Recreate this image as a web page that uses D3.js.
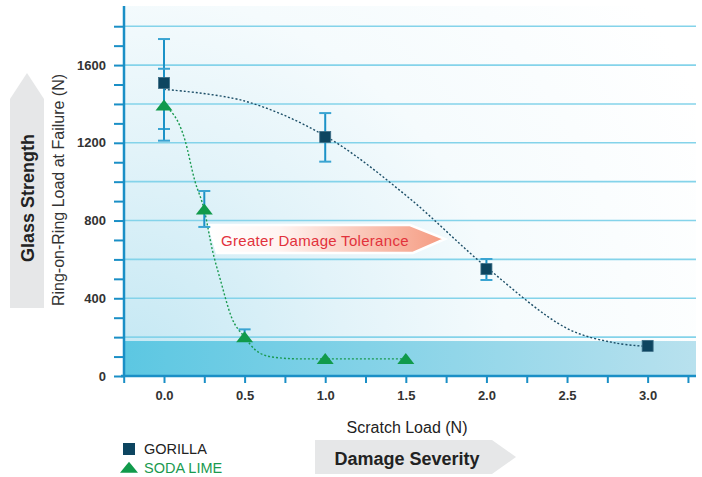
<!DOCTYPE html>
<html><head><meta charset="utf-8">
<script src="https://cdn.jsdelivr.net/npm/d3@7"></script>
<style>body{margin:0;background:#fff;} svg{display:block;font-family:"Liberation Sans",Arial,sans-serif;}</style>
</head><body><svg id="c" width="702" height="477"></svg>
<script>
// ---- data ----
const gorillaX = [0, 1, 2, 3];
const gorillaY = [1508, 1230, 550, 155];
const gorillaErrLow = [1271, 1103, 494, null];
const gorillaErrHigh = [1734, 1353, 602, null];
const sodaX = [0, 0.25, 0.5, 1, 1.5];
const sodaY = [1395, 860, 202, 90, 90];
const sodaErrLow = [1211, 767, 182, null, null];
const sodaErrHigh = [1581, 952, 240, null, null];
const gorillaFitX = [0, 0.5, 1, 1.5, 2, 2.5, 2.8, 3];
const gorillaFitY = [1475, 1415, 1235, 930, 560, 245, 170, 152];
const sodaFitX = [0, 0.13, 0.19, 0.25, 0.3, 0.35, 0.42, 0.5, 0.57, 0.67, 0.84, 1.5];
const sodaFitY = [1395, 1214, 1008, 854, 648, 494, 300, 200, 132, 98, 88, 88];
const bandTop = 180;
const yTicks = [0,100,200,300,400,500,600,700,800,900,1000,1100,1200,1300,1400,1500,1600,1700,1800];
const yTickLabels = [0, 400, 800, 1200, 1600];
const gridValues = [200, 400, 600, 800, 1000, 1200, 1400, 1600, 1800];
const xTicks = [-0.25,0,0.25,0.5,0.75,1,1.25,1.5,1.75,2,2.25,2.5,2.75,3,3.25];
const xTickLabels = [0, 0.5, 1, 1.5, 2, 2.5, 3];
const seriesNames = ["GORILLA", "SODA LIME"];

// ---- layout ----
const svg = d3.select("#c");
const x = d3.scaleLinear().domain([-0.25, 3.3]).range([123.7, 696]);
const y = d3.scaleLinear().domain([0, 1904]).range([376, 6]);
const axisColor = "#1a8fc6";
const left = 124, right = 696;
const FONT = '"Liberation Sans",Arial,sans-serif';

const defs = svg.append("defs");
const rg = defs.append("radialGradient").attr("id","bg").attr("gradientUnits","userSpaceOnUse")
  .attr("cx",124).attr("cy",376).attr("r",640);
rg.append("stop").attr("offset",0).attr("stop-color","#c2e7f3");
rg.append("stop").attr("offset",0.35).attr("stop-color","#e2f3f9");
rg.append("stop").attr("offset",0.6).attr("stop-color","#f5fbfd");
rg.append("stop").attr("offset",1).attr("stop-color","#ffffff");
const bg2 = defs.append("linearGradient").attr("id","band").attr("x1",0).attr("x2",1).attr("y1",0).attr("y2",0);
bg2.append("stop").attr("offset",0).attr("stop-color","#5cc7e2");
bg2.append("stop").attr("offset",1).attr("stop-color","#b8e1ee");
const ag = defs.append("linearGradient").attr("id","arr").attr("x1",0).attr("x2",1).attr("y1",0).attr("y2",0);
ag.append("stop").attr("offset",0).attr("stop-color","#ffffff");
ag.append("stop").attr("offset",0.3).attr("stop-color","#fff4f1");
ag.append("stop").attr("offset",1).attr("stop-color","#f59a80");

// background
svg.append("rect").attr("x",left).attr("y",y(1904)).attr("width",right-left).attr("height",y(0)-y(1904)).attr("fill","url(#bg)");
svg.append("rect").attr("x",left).attr("y",y(bandTop)).attr("width",right-left).attr("height",y(0)-y(bandTop)).attr("fill","url(#band)");

// grid
svg.append("g").selectAll("line").data(gridValues).join("line")
  .attr("x1",left).attr("x2",right).attr("y1",d=>y(d)).attr("y2",d=>y(d))
  .attr("stroke","#84d3ea").attr("stroke-width",1.6);

// axes
const yAxis = d3.axisLeft(y).tickValues(yTicks).tickSize(10).tickPadding(8).tickSizeOuter(0)
  .tickFormat(d => yTickLabels.includes(d) ? d : "");
const gy = svg.append("g").attr("transform",`translate(${left},0)`).call(yAxis);
const xAxis = d3.axisBottom(x).tickValues(xTicks).tickSize(7).tickPadding(8).tickSizeOuter(0)
  .tickFormat(d => xTickLabels.includes(d) ? d3.format(".1f")(d) : "");
const gx = svg.append("g").attr("transform",`translate(0,${y(0)})`).call(xAxis);
[gx, gy].forEach(g => {
  g.attr("font-family", FONT);
  g.select(".domain").attr("stroke",axisColor).attr("stroke-width",2.5);
  g.selectAll(".tick line").attr("stroke",axisColor).attr("stroke-width",2);
  g.selectAll(".tick text").attr("fill","#333").attr("font-size",13).attr("font-weight","bold");
});
gx.select(".domain").attr("d",`M121,0H${right}`);
gy.select(".domain").attr("d",`M0,${y(1904)}V${y(0)+1}`);

// Greater damage tolerance arrow
svg.append("polygon").attr("points","209,225 410,225 445,239 413,253 217,253")
  .attr("fill","url(#arr)").attr("stroke","#ffffff").attr("stroke-width",2.5);
svg.append("text").attr("x",221).attr("y",245.5).attr("font-size",15).attr("fill","#e2323c")
  .attr("letter-spacing",0.3).text("Greater Damage Tolerance");

// fit curves
const lineG = d3.line().x(d=>x(d[0])).y(d=>y(d[1])).curve(d3.curveCatmullRom.alpha(0.5));
const lineS = d3.line().x(d=>x(d[0])).y(d=>y(d[1])).curve(d3.curveMonotoneX);
svg.append("path").attr("d",lineG(gorillaFitX.map((v,i)=>[v,gorillaFitY[i]])))
  .attr("fill","none").attr("stroke","#1d4f68").attr("stroke-width",1.4).attr("stroke-dasharray","2,2");
svg.append("path").attr("d",lineS(sodaFitX.map((v,i)=>[v,sodaFitY[i]])))
  .attr("fill","none").attr("stroke","#1a9a50").attr("stroke-width",1.4).attr("stroke-dasharray","2,2");

// error bars
function errBars(xs, lo, hi) {
  const g = svg.append("g");
  xs.forEach((xv,i) => {
    if (lo[i] == null) return;
    g.append("line").attr("x1",x(xv)).attr("x2",x(xv)).attr("y1",y(lo[i])).attr("y2",y(hi[i]))
      .attr("stroke","#1b92c7").attr("stroke-width",2);
    [lo[i], hi[i]].forEach(v => g.append("line").attr("x1",x(xv)-6).attr("x2",x(xv)+6)
      .attr("y1",y(v)).attr("y2",y(v)).attr("stroke","#3aa4d2").attr("stroke-width",2));
  });
}
errBars(gorillaX, gorillaErrLow, gorillaErrHigh);
errBars(sodaX, sodaErrLow, sodaErrHigh);

// markers
const sq = 11;
svg.append("g").selectAll("rect").data(gorillaX.map((v,i)=>[v,gorillaY[i]])).join("rect")
  .attr("x",d=>x(d[0])-sq/2).attr("y",d=>y(d[1])-sq/2).attr("width",sq).attr("height",sq)
  .attr("fill","#0d4560").attr("stroke","#3d6e86").attr("stroke-width",0.8);
const tri = (cx,cy,w,h) => `M${cx},${cy-h/2}L${cx+w/2},${cy+h/2}L${cx-w/2},${cy+h/2}Z`;
svg.append("g").selectAll("path").data(sodaX.map((v,i)=>[v,sodaY[i]])).join("path")
  .attr("d",d=>tri(x(d[0]),y(d[1]),17,11)).attr("fill","#119a4b");

// axis titles
svg.append("text").attr("x",407).attr("y",433).attr("text-anchor","middle").attr("font-size",16)
  .attr("fill","#222").text("Scratch Load (N)");
svg.append("text").attr("transform","translate(64,190) rotate(-90)").attr("text-anchor","middle")
  .attr("font-size",16).attr("fill","#333").text("Ring-on-Ring Load at Failure (N)");

// Glass strength arrow
svg.append("polygon").attr("points","10,308 44,308 44,99 27,73 10,99").attr("fill","#e6e7e8");
svg.append("text").attr("transform","translate(33.5,198) rotate(-90)").attr("text-anchor","middle")
  .attr("font-size",18).attr("font-weight","bold").attr("fill","#222").text("Glass Strength");

// Damage severity arrow
svg.append("polygon").attr("points","315,440 492,440 516,457 492,474 315,474").attr("fill","#e6e7e8");
svg.append("text").attr("x",407).attr("y",465).attr("text-anchor","middle")
  .attr("font-size",18).attr("font-weight","bold").attr("fill","#222").text("Damage Severity");

// legend
svg.append("rect").attr("x",123).attr("y",443).attr("width",12).attr("height",12).attr("fill","#0d4560");
svg.append("text").attr("x",144).attr("y",454.3).attr("font-size",14.5).attr("fill","#222").text(seriesNames[0]);
svg.append("path").attr("d",tri(129,467.2,18,11)).attr("fill","#119a4b");
svg.append("text").attr("x",144).attr("y",472.7).attr("font-size",14.5).attr("fill","#1a9a50").text(seriesNames[1]);
</script></body></html>
